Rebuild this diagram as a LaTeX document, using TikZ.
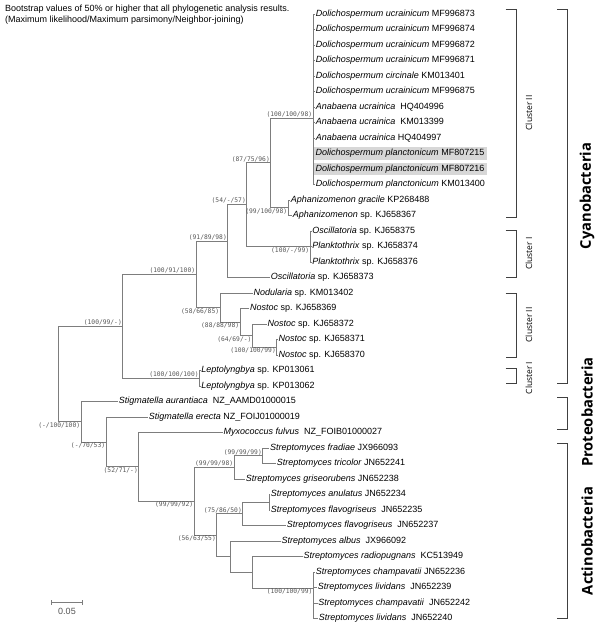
\documentclass[tikz,border=0pt]{standalone}
\usepackage{fontspec}
\setmainfont{Liberation Sans}
\newfontfamily\bootfont{DejaVu Sans Mono}
\newfontfamily\groupfont{Open Sans}
\usepackage{tikz}
\usetikzlibrary{positioning, calc}
\definecolor{treegray}{RGB}{125,125,125}
\definecolor{bootgray}{RGB}{85,85,85}
\definecolor{hlgray}{RGB}{215,215,215}

\tikzset{
  taxon/.style={anchor=west, inner xsep=0.6pt, inner ysep=0pt, text height=6.6pt, text depth=1.9pt, font=\fontsize{9}{10}\selectfont},
  hltaxon/.style={taxon, fill=hlgray, inner xsep=2.5pt, inner ysep=1.8pt},
  bsup/.style={anchor=south east, inner sep=0.7pt, text=bootgray, font=\bootfont\fontsize{6.3}{7}\selectfont},
  bsdown/.style={bsup, anchor=north east},
  branch/.style={draw=treegray, line width=0.9pt},
  bracket/.style={draw=black!75, line width=0.9pt},
  phylum/.style={rotate=90, font=\groupfont\bfseries\fontsize{14.7}{16}\selectfont},
  cluster/.style={rotate=90, font=\groupfont\fontsize{8.5}{10}\selectfont},
}

\begin{document}
\begin{tikzpicture}[x=1pt, y=-1pt]
\useasboundingbox (0,0) rectangle (600,628);

% Header
\node[anchor=north west, align=left, inner sep=0pt, font=\fontsize{9}{11}\selectfont] (note) at (5,4.5)
  {Bootstrap values of 50\% or higher that all phylogenetic analysis results.\\(Maximum likelihood/Maximum parsimony/Neighbor-joining)};

% Taxa
\foreach \i/\x/\y/\name in {
  1/315/14/{\textit{Dolichospermum ucrainicum} MF996873},
  2/315/29.5/{\textit{Dolichospermum ucrainicum} MF996874},
  3/315/45/{\textit{Dolichospermum ucrainicum} MF996872},
  4/315/60.5/{\textit{Dolichospermum ucrainicum} MF996871},
  5/315/76/{\textit{Dolichospermum circinale} KM013401},
  6/315/91.5/{\textit{Dolichospermum ucrainicum} MF996875},
  7/315/107/{\textit{Anabaena ucrainica}~ HQ404996},
  8/315/122.5/{\textit{Anabaena ucrainica}~ KM013399},
  9/315/138/{\textit{Anabaena ucrainica} HQ404997},
  12/315/184.5/{\textit{Dolichospermum planctonicum} KM013400},
  13/290/200/{\textit{Aphanizomenon gracile} KP268488},
  14/292/215.5/{\textit{Aphanizomenon} sp. KJ658367},
  15/311.5/231/{\textit{Oscillatoria} sp. KJ658375},
  16/311.5/246.5/{\textit{Planktothrix} sp. KJ658374},
  17/311.5/262/{\textit{Planktothrix} sp. KJ658376},
  18/270/277.5/{\textit{Oscillatoria} sp. KJ658373},
  19/252.7/293/{\textit{Nodularia} sp. KM013402},
  20/249.3/308.5/{\textit{Nostoc} sp. KJ658369},
  21/266.7/324/{\textit{Nostoc} sp. KJ658372},
  22/277.7/339.5/{\textit{Nostoc} sp. KJ658371},
  23/277.7/355/{\textit{Nostoc} sp. KJ658370},
  24/200.5/370.5/{\textit{Leptolyngbya} sp. KP013061},
  25/200.5/386/{\textit{Leptolyngbya} sp. KP013062},
  26/118/401.5/{\textit{Stigmatella aurantiaca}~ NZ\_AAMD01000015},
  27/148/417/{\textit{Stigmatella erecta} NZ\_FOIJ01000019},
  28/222.7/432.5/{\textit{Myxococcus fulvus}~ NZ\_FOIB01000027},
  29/269.3/448/{\textit{Streptomyces fradiae} JX966093},
  30/276/463.5/{\textit{Streptomyces tricolor} JN652241},
  31/245/479/{\textit{Streptomyces griseorubens} JN652238},
  32/270/494.5/{\textit{Streptomyces anulatus} JN652234},
  33/270/510/{\textit{Streptomyces flavogriseus}~ JN652235},
  34/286/525.5/{\textit{Streptomyces flavogriseus}~ JN652237},
  35/280.7/541/{\textit{Streptomyces albus}~ JX966092},
  36/302.7/556.5/{\textit{Streptomyces radiopugnans}~ KC513949},
  37/315/572/{\textit{Streptomyces champavatii} JN652236},
  38/317/587.5/{\textit{Streptomyces lividans}~ JN652239},
  39/317.5/603/{\textit{Streptomyces champavatii}~ JN652242},
  40/318/618.5/{\textit{Streptomyces lividans}~ JN652240}}
  \node[taxon] (t\i) at (\x,\y) {\name};
\node[hltaxon] (t10) at (313,153.5) {\textit{Dolichospermum planctonicum} MF807215};
\node[hltaxon] (t11) at (313,169) {\textit{Dolichospermum planctonicum} MF807216};

% Internal nodes
\coordinate (root) at (58.3,374);
\coordinate (cy) at (122.7,326.3);
\coordinate (c1) at (196,274.3);
\coordinate (c91) at (227.7,241.1);
\coordinate (c54) at (246.7,204.7);
\coordinate (c87) at (270.7,162.9);
\coordinate (cII) at (313,118);
\coordinate (aph) at (288,207.75);
\coordinate (cpl) at (310,246.5);
\coordinate (c58) at (220,307.5);
\coordinate (c88) at (240,322.1);
\coordinate (c64) at (252.3,335.6);
\coordinate (c100) at (276.7,347.25);
\coordinate (lep) at (199.5,378.25);
\coordinate (st) at (81,421.7);
\coordinate (c70) at (106,441.95);
\coordinate (c52) at (138.7,466.9);
\coordinate (c99) at (194,501.3);
\coordinate (c98) at (234,467.4);
\coordinate (c999) at (262.7,455.75);
\coordinate (c56) at (216.7,535.25);
\coordinate (c75) at (242.7,513.9);
\coordinate (can) at (269.3,502.25);
\coordinate (cx) at (230,556.6);
\coordinate (cy2) at (252.3,572.25);
\coordinate (cch) at (313.3,588);

% Branches
\foreach \p/\c in {root/cy, root/st, cy/c1, cy/lep, c1/c91, c1/c58, c91/c54, c91/t18.west,
  c54/c87, c54/cpl, c87/cII, c87/aph, aph/t13.west, aph/t14.west,
  cpl/t15.west, cpl/t16.west, cpl/t17.west, c58/t19.west, c58/c88, c88/t20.west, c88/c64,
  c64/t21.west, c64/c100, c100/t22.west, c100/t23.west, lep/t24.west, lep/t25.west,
  st/t26.west, st/c70, c70/t27.west, c70/c52, c52/t28.west, c52/c99, c99/c98, c99/c56,
  c98/c999, c98/t31.west, c999/t29.west, c999/t30.west, c56/c75, c56/cx, c75/can, c75/t34.west,
  can/t32.west, can/t33.west, cx/t35.west, cx/cy2, cy2/t36.west, cy2/cch,
  cch/t37.west, cch/t38.west, cch/t39.west, cch/t40.west}
  \draw[branch] (\p) |- (\c);
\foreach \i in {1,...,12}
  \draw[branch] (cII) |- (t\i.west);

% Bootstrap values
\foreach \n/\v in {cII/{(100/100/98)}, c87/{(87/75/96)}, c54/{(54/-/57)}, c91/{(91/89/98)},
  c1/{(100/91/100)}, cy/{(100/99/-)}, lep/{(100/100/100)}, c999/{(99/99/99)},
  c98/{(99/99/98)}, c75/{(75/86/50)}}
  \node[bsup] (b\n) at (\n) {\v};
\foreach \n/\v in {aph/{(99/100/98)}, cpl/{(100/-/99)}, c58/{(58/66/85)}, c88/{(88/88/98)},
  c64/{(64/69/-)}, c100/{(100/100/99)}, st/{(-/100/100)}, c70/{(-/70/53)},
  c52/{(52/71/-)}, c99/{(99/99/92)}, c56/{(56/63/55)}, cch/{(100/100/99)}}
  \node[bsdown] (b\n) at (\n) {\v};

% Clusters
\foreach \a/\b in {9/217, 230/277, 293/357, 368/383}
  \draw[bracket] (505.7,\a) -- (516,\a) -- (516,\b) -- (505.7,\b);
\node[cluster] (cl1) at (529,113) {Cluster II};
\node[cluster] (cl2) at (529,253.5) {Cluster I};
\node[cluster] (cl3) at (529,325) {Cluster II};
\node[cluster] (cl4) at (529,378) {Cluster I};

% Phyla
\foreach \a/\b in {9/383, 397/429, 443/618}
  \draw[bracket] (557,\a) -- (567,\a) -- (567,\b) -- (557,\b);
\node[phylum] (cyano) at (587,196) {Cyanobacteria};
\node[phylum] (proteo) at (587,412) {Proteobacteria};
\node[phylum] (actino) at (587,541) {Actinobacteria};

% Scale bar
\coordinate (sbl) at (51.7,602.7);
\coordinate (sbr) at (82.7,602.7);
\draw[branch] (sbl) -- (sbr) (sbl) ++(0,-2.5) -- ++(0,5) (sbr) ++(0,-2.5) -- ++(0,5);
\node[font=\fontsize{9}{10}\selectfont, text=bootgray] (sbtext) at (67,611.5) {0.05};
\end{tikzpicture}
\end{document}
